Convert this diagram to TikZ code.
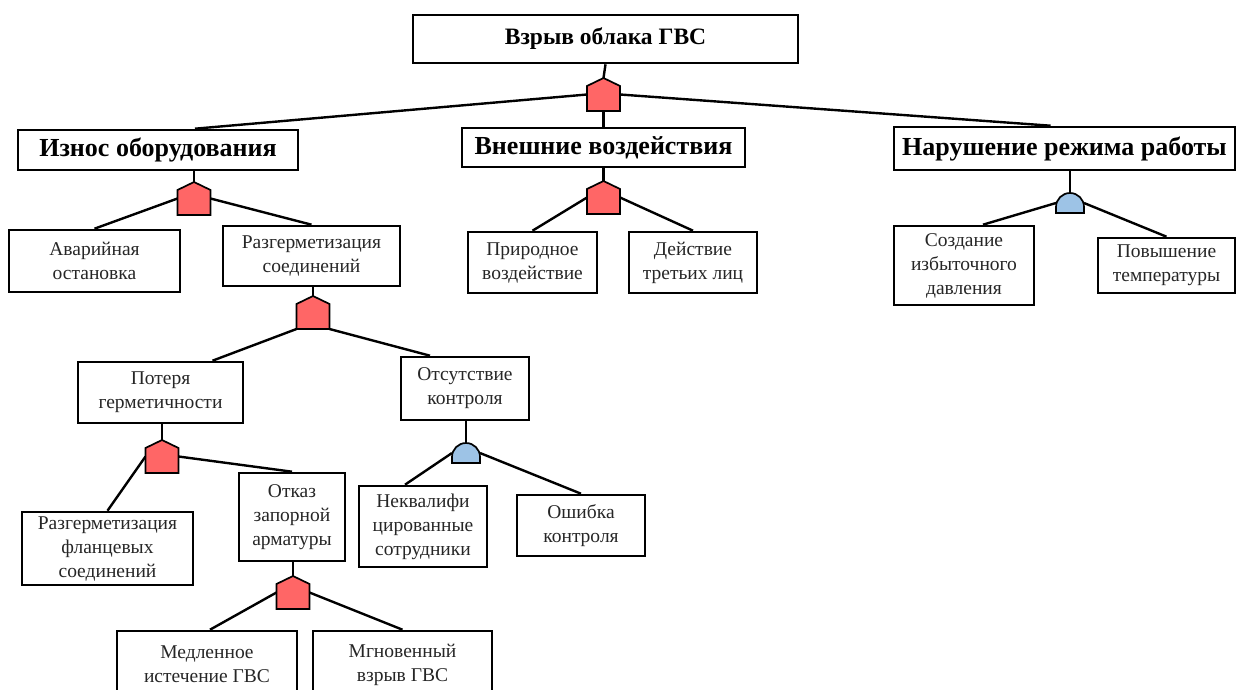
\documentclass[tikz,border=0pt]{standalone}
\usepackage{fontspec}
\setmainfont{Liberation Serif}
\usetikzlibrary{calc}
\definecolor{gred}{HTML}{FF6666}
\definecolor{gblue}{HTML}{9DC3E6}
\begin{document}
\begin{tikzpicture}[x=1pt,y=-1pt,
  box/.style={draw, line width=2.6pt, inner sep=0pt, align=center, text=black!85, font=\fontsize{19.5}{24}\selectfont},
  hbox/.style={box, text=black, font=\fontsize{26}{30}\selectfont\bfseries},
  gate/.style={rectangle, inner sep=0pt, outer sep=0pt, anchor=north},
  redgate/.style={gate, minimum width=33pt, minimum height=33pt},
  bluegate/.style={gate, minimum width=28pt, minimum height=20pt},
  link/.style={line width=2.4pt},
  gateline/.style={line width=1.7pt, line join=miter}]
\useasboundingbox (0,0) rectangle (1236,690);

% boxes
\node[hbox, minimum width=385pt, minimum height=48pt, font=\fontsize{23.5}{28}\selectfont\bfseries] (top) at (605.5,39) {Взрыв облака ГВС};
\node[hbox, minimum width=280pt, minimum height=40pt] (izn) at (158,150) {Износ оборудования};
\node[hbox, minimum width=283pt, minimum height=39pt] (vne) at (603.5,147.5) {Внешние воздействия};
\node[hbox, minimum width=341pt, minimum height=43pt] (nar) at (1064.5,148.5) {Нарушение режима работы};

\node[box, minimum width=171pt, minimum height=62pt] (avar) at (94.5,261) {Аварийная\\остановка};
\node[box, minimum width=177pt, minimum height=60pt] (razs) at (311.5,256) {Разгерметизация\\соединений};
\node[box, minimum width=129pt, minimum height=61pt] (prir) at (532.5,262.5) {Природное\\воздействие};
\node[box, minimum width=128pt, minimum height=61pt] (dei) at (693,262.5) {Действие\\третьих лиц};
\node[box, minimum width=140pt, minimum height=79pt] (soz) at (964,265.5) {Создание\\избыточного\\давления};
\node[box, minimum width=137pt, minimum height=55pt] (pov) at (1166.5,265.5) {Повышение\\температуры};

\node[box, minimum width=165pt, minimum height=61pt] (pot) at (160.5,392.5) {Потеря\\герметичности};
\node[box, minimum width=128pt, minimum height=63pt] (ots) at (465,388.5) {Отсутствие\\контроля};
\node[box, minimum width=171pt, minimum height=73pt] (flan) at (107.5,548.5) {Разгерметизация\\фланцевых\\соединений};
\node[box, minimum width=106pt, minimum height=88pt] (otk) at (292,517) {Отказ\\запорной\\арматуры};
\node[box, minimum width=128pt, minimum height=81pt] (nekv) at (423,526.5) {Неквалифи\\цированные\\сотрудники};
\node[box, minimum width=128pt, minimum height=61pt] (osh) at (581,525.5) {Ошибка\\контроля};
\node[box, minimum width=180pt, minimum height=67pt] (med) at (207,664.5) {Медленное\\истечение ГВС};
\node[box, minimum width=179pt, minimum height=67pt] (mgn) at (402.5,664.5) {Мгновенный\\взрыв ГВС};

% gates (placeholders)
\node[redgate] (g0) at (603.5,78) {};
\node[redgate] (g1) at (194,182) {};
\node[redgate] (g2) at (603.5,181) {};
\node[redgate] (g3) at (313,296) {};
\node[redgate] (g4) at (162,440) {};
\node[redgate] (g5) at (293,576) {};
\node[bluegate] (b1) at (1070,193) {};
\node[bluegate] (b2) at (466,443) {};

% connectors
\draw[link] (top.south) -- (g0.north);
\draw[link] (g0.west) -- ([xshift=37pt]izn.north);
\draw[link] (g0.south) -- (vne.north);
\draw[link] (g0.east) -- ([xshift=-14pt]nar.north);

\draw[link] (g1.north |- izn.south) -- (g1.north);
\draw[link] (g1.west) -- (avar.north);
\draw[link] (g1.east) -- (razs.north);

\draw[link] (vne.south) -- (g2.north);
\draw[link] (g2.west) -- (prir.north);
\draw[link] (g2.east) -- (dei.north);

\draw[link] (b1.north |- nar.south) -- (b1.north);
\draw[link] (b1.west) -- ([xshift=19pt]soz.north);
\draw[link] (b1.east) -- (pov.north);

\draw[link] (g3.north |- razs.south) -- (g3.north);
\draw[link] (g3.south west) -- ([xshift=52pt]pot.north);
\draw[link] (g3.south east) -- ([xshift=-35pt]ots.north);

\draw[link] (g4.north |- pot.south) -- (g4.north);
\draw[link] (g4.west) -- (flan.north);
\draw[link] (g4.east) -- (otk.north);

\draw[link] (g5.north |- otk.south) -- (g5.north);
\draw[link] (g5.west) -- ([xshift=3pt]med.north);
\draw[link] (g5.east) -- (mgn.north);

\draw[link] (b2.north |- ots.south) -- (b2.north);
\draw[link] (b2.west) -- ([xshift=-18pt]nekv.north);
\draw[link] (b2.east) -- (osh.north);

% gate shapes
\foreach \g in {g0,g1,g2,g3,g4,g5}
  \draw[gateline, fill=gred] (\g.south west) -- (\g.south east) -- ([yshift=-8pt]\g.north east) -- (\g.north) -- ([yshift=-8pt]\g.north west) -- cycle;
\foreach \g in {b1,b2}
  \draw[gateline, fill=gblue] (\g.south west) -- ([yshift=6pt]\g.south west)
    .. controls ([yshift=13.73pt]\g.south west) and ([xshift=-7.73pt]\g.north) .. (\g.north)
    .. controls ([xshift=7.73pt]\g.north) and ([yshift=13.73pt]\g.south east) .. ([yshift=6pt]\g.south east)
    -- (\g.south east) -- cycle;
\end{tikzpicture}
\end{document}
